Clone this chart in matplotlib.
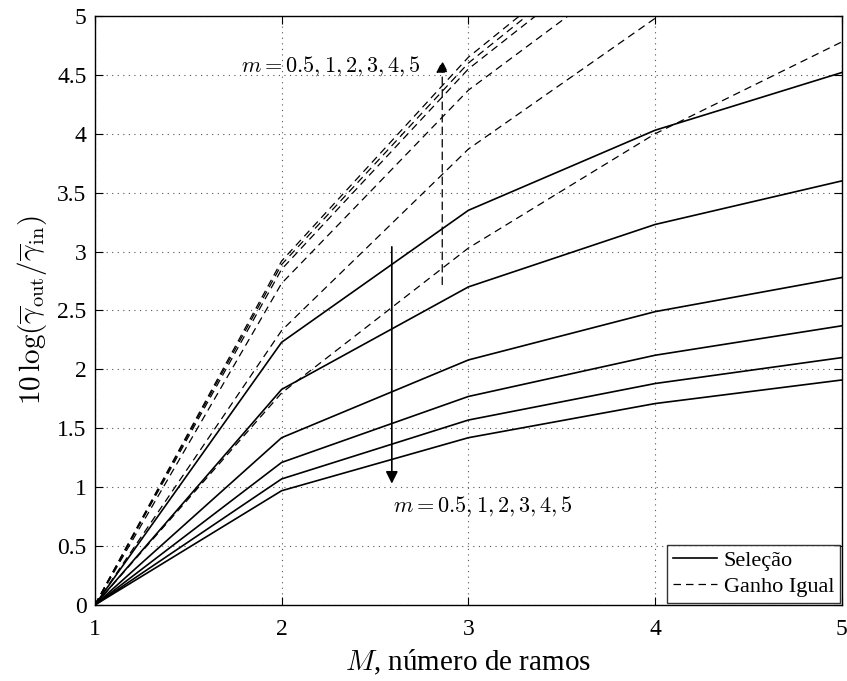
import matplotlib
matplotlib.use("Agg")
import matplotlib.pyplot as plt

plt.rcParams['font.family'] = ['Liberation Serif', 'DejaVu Serif']
plt.rcParams['mathtext.fontset'] = 'cm'

# Number of diversity branches
branches = [1, 2, 3, 4, 5]
m_values = [0.5, 1, 2, 3, 4, 5]

# SNR gain (dB) for selection combining, one list per Nakagami-m value
selecao = {
    0.5: [0, 2.23, 3.35, 4.03, 4.52],
    1:   [0, 1.83, 2.70, 3.23, 3.60],
    2:   [0, 1.42, 2.08, 2.49, 2.78],
    3:   [0, 1.21, 1.77, 2.12, 2.37],
    4:   [0, 1.07, 1.57, 1.88, 2.10],
    5:   [0, 0.97, 1.42, 1.71, 1.91],
}

# SNR gain (dB) for equal gain combining
ganho_igual = {
    0.5: [0, 1.80, 3.03, 4.00, 4.78],
    1:   [0, 2.33, 3.87, 4.98, 5.80],
    2:   [0, 2.73, 4.37, 5.55, 6.40],
    3:   [0, 2.85, 4.55, 5.80, 6.70],
    4:   [0, 2.89, 4.60, 5.88, 6.80],
    5:   [0, 2.92, 4.65, 5.93, 6.85],
}

fig = plt.figure(figsize=(8.47, 6.81), dpi=100)
ax = fig.add_axes([0.112, 0.1116, 0.882, 0.865])

for i, m in enumerate(m_values):
    ax.plot(branches, selecao[m], color='black', linewidth=1.2,
            label='Seleção' if i == 0 else None)
for i, m in enumerate(m_values):
    ax.plot(branches, ganho_igual[m], color='black', linewidth=0.9,
            linestyle=(0, (6, 4)), label='Ganho Igual' if i == 0 else None)

ax.set_xlim(1, 5)
ax.set_ylim(0, 5)
ax.set_xticks([1, 2, 3, 4, 5])
ax.set_yticks([0, 0.5, 1, 1.5, 2, 2.5, 3, 3.5, 4, 4.5, 5])
ax.set_yticklabels(['0', '0.5', '1', '1.5', '2', '2.5', '3', '3.5', '4', '4.5', '5'])
ax.grid(True, linestyle=(0, (1, 4)), color='#555555', linewidth=0.8)
ax.tick_params(direction='in', top=True, right=True, labelsize=17, length=6)
ax.tick_params(axis='x', pad=10)
ax.tick_params(axis='y', pad=6)
for s in ax.spines.values():
    s.set_linewidth(1.0)

ax.set_xlabel(r'$M$, número de ramos', fontsize=21, labelpad=6)
ax.set_ylabel(r'$10\,\log(\overline{\gamma}_{\rm out}/\overline{\gamma}_{\rm in})$',
              fontsize=21, labelpad=6)

# Arrows indicating increasing m
ax.annotate('', xy=(2.59, 1.03), xytext=(2.59, 3.04),
            arrowprops=dict(arrowstyle='-|>', color='black', lw=1.2,
                            mutation_scale=18, shrinkA=0, shrinkB=0))
ax.text(2.595, 0.84, r'$m = 0.5, 1, 2, 3, 4, 5$', fontsize=16,
        ha='left', va='center')

ax.annotate('', xy=(2.86, 4.62), xytext=(2.86, 2.72),
            arrowprops=dict(arrowstyle='-|>', color='black', lw=0.9,
                            linestyle=(0, (6, 4)), mutation_scale=18,
                            shrinkA=0, shrinkB=0))
ax.text(2.745, 4.57, r'$m = 0.5, 1, 2, 3, 4, 5$', fontsize=16,
        ha='right', va='center')

leg = ax.legend(loc='lower right', fontsize=16, frameon=True, fancybox=False,
                edgecolor='black', handlelength=2.0, handletextpad=0.3,
                borderpad=0.25, labelspacing=0.25, borderaxespad=0.1)
leg.get_frame().set_linewidth(1.0)

fig.savefig('out.png', dpi=100)
